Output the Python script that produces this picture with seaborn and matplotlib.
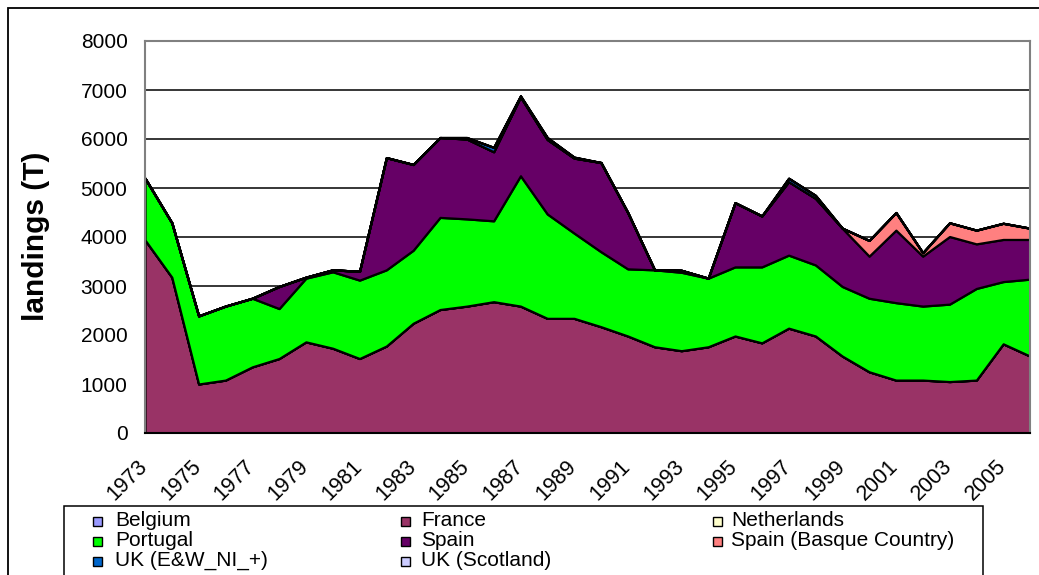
import numpy as np
import matplotlib
matplotlib.use("Agg")
import matplotlib.pyplot as plt
import matplotlib.transforms as mtransforms
from matplotlib.patches import Rectangle
import seaborn as sns

# Landings (tonnes) by country, 1973-2006
years = list(range(1973, 2007))

belgium = [0] * 34
france = [3940, 3180, 1000, 1080, 1350, 1520, 1860, 1730, 1520, 1775,
          2240, 2520, 2590, 2680, 2590, 2340, 2340, 2170, 1980, 1760,
          1680, 1760, 1980, 1840, 2140, 1980, 1570, 1250, 1080, 1080,
          1050, 1080, 1820, 1570]
netherlands = [0] * 34
portugal = [1260, 1110, 1390, 1510, 1400, 1020, 1300, 1560, 1600, 1555,
            1490, 1880, 1780, 1650, 2660, 2130, 1740, 1530, 1370, 1570,
            1600, 1400, 1410, 1550, 1490, 1450, 1420, 1500, 1580, 1510,
            1580, 1870, 1270, 1570]
spain = [0, 0, 0, 0, 0, 450, 20, 40, 180, 2290,
         1750, 1630, 1630, 1410, 1610, 1520, 1530, 1820, 1150, 0,
         40, 0, 1310, 1040, 1500, 1360, 1190, 860, 1480, 1020,
         1380, 910, 860, 810]
spain_basque = [0] * 27 + [320, 360, 70, 280, 280, 330, 230]
uk_ew = [0] * 12 + [30, 90, 20, 40, 20] + [0] * 7 + [70, 60] + [0] * 8
uk_scotland = [0] * 34

series_names = ["Belgium", "France", "Netherlands", "Portugal", "Spain",
                "Spain (Basque Country)", "UK (E&W_NI_+)", "UK (Scotland)"]
series_values = [belgium, france, netherlands, portugal, spain,
                 spain_basque, uk_ew, uk_scotland]
series_colors = ["#9999FF", "#993366", "#FFFFCC", "#00FF00", "#660066",
                 "#FF8080", "#0066CC", "#CCCCFF"]

y_ticks = list(range(0, 8001, 1000))
x_labels = [str(y) if y % 2 == 1 else "" for y in years]

W, H = 1039, 575
sns.set_theme(style="white")
plt.rcParams["font.family"] = ["Liberation Sans", "DejaVu Sans"]
plt.rcParams["text.color"] = "black"
plt.rcParams["axes.labelcolor"] = "black"
plt.rcParams["xtick.color"] = "black"
plt.rcParams["ytick.color"] = "black"

fig = plt.figure(figsize=(W / 100, H / 100), dpi=100)
ax = fig.add_axes([145 / W, 1 - 433 / H, (1030 - 145) / W, (433 - 41) / H])

# outer chart frame
fig.patches.append(Rectangle((8 / W, -0.1), 1.2, 1 - 8 / H + 0.1,
                             transform=fig.transFigure, fill=False,
                             edgecolor="black", linewidth=1.3, zorder=0))

# horizontal gridlines
for yv in y_ticks[1:-1]:
    ax.axhline(yv, color="black", linewidth=1.1, zorder=1)

ax.stackplot(years, *series_values, colors=series_colors,
             edgecolor="black", linewidth=1.6, zorder=2)

ax.set_xlim(years[0], years[-1])
ax.set_ylim(0, 8000)
ax.set_yticks(y_ticks)
ax.set_yticklabels([str(v) for v in y_ticks], fontsize=15, color="black")
ax.set_xticks(years)
ax.set_xticklabels(x_labels, fontsize=15.5, rotation=45, ha="right",
                   va="top", rotation_mode="anchor", color="black")
ax.tick_params(axis="y", direction="out", length=4, width=1,
               color="#808080", pad=8.6, labelcolor="black")
ax.tick_params(axis="x", direction="out", length=4, width=1,
               color="#808080", pad=12.5, labelcolor="black")
shift = mtransforms.ScaledTranslation(-8 / 100, 0, fig.dpi_scale_trans)
for lbl in ax.get_xticklabels():
    lbl.set_transform(lbl.get_transform() + shift)

for side in ["top", "right", "left", "bottom"]:
    ax.spines[side].set_visible(True)
    ax.spines[side].set_color("#808080")
    ax.spines[side].set_linewidth(1.5)
ax.spines["bottom"].set_color("black")

fig.text(36 / W, 1 - 236 / H, "landings (T)", rotation=90, fontsize=21.5,
         fontweight="bold", ha="center", va="center", color="black")

# legend box below the plot, three columns filled row by row
fig.patches.append(Rectangle((64 / W, -0.1), (983 - 64) / W, 1 - 506 / H + 0.1,
                             transform=fig.transFigure, fill=False,
                             edgecolor="black", linewidth=1.1, zorder=3))
col_marker_x = [97, 405, 717]
col_text_x = [115, 421, 731]
row_y = [521, 541, 561]
sq = 9
for i, (name, color) in enumerate(zip(series_names, series_colors)):
    r, c = divmod(i, 3)
    cx, cy = col_marker_x[c], row_y[r]
    fig.patches.append(Rectangle(((cx - sq / 2) / W, 1 - (cy + sq / 2) / H),
                                 sq / W, sq / H, transform=fig.transFigure,
                                 facecolor=color, edgecolor="black",
                                 linewidth=1.0, zorder=4))
    fig.text(col_text_x[c] / W, 1 - (cy - 1) / H, name, fontsize=15,
             ha="left", va="center", color="black")

fig.savefig("out.png", dpi=100)
